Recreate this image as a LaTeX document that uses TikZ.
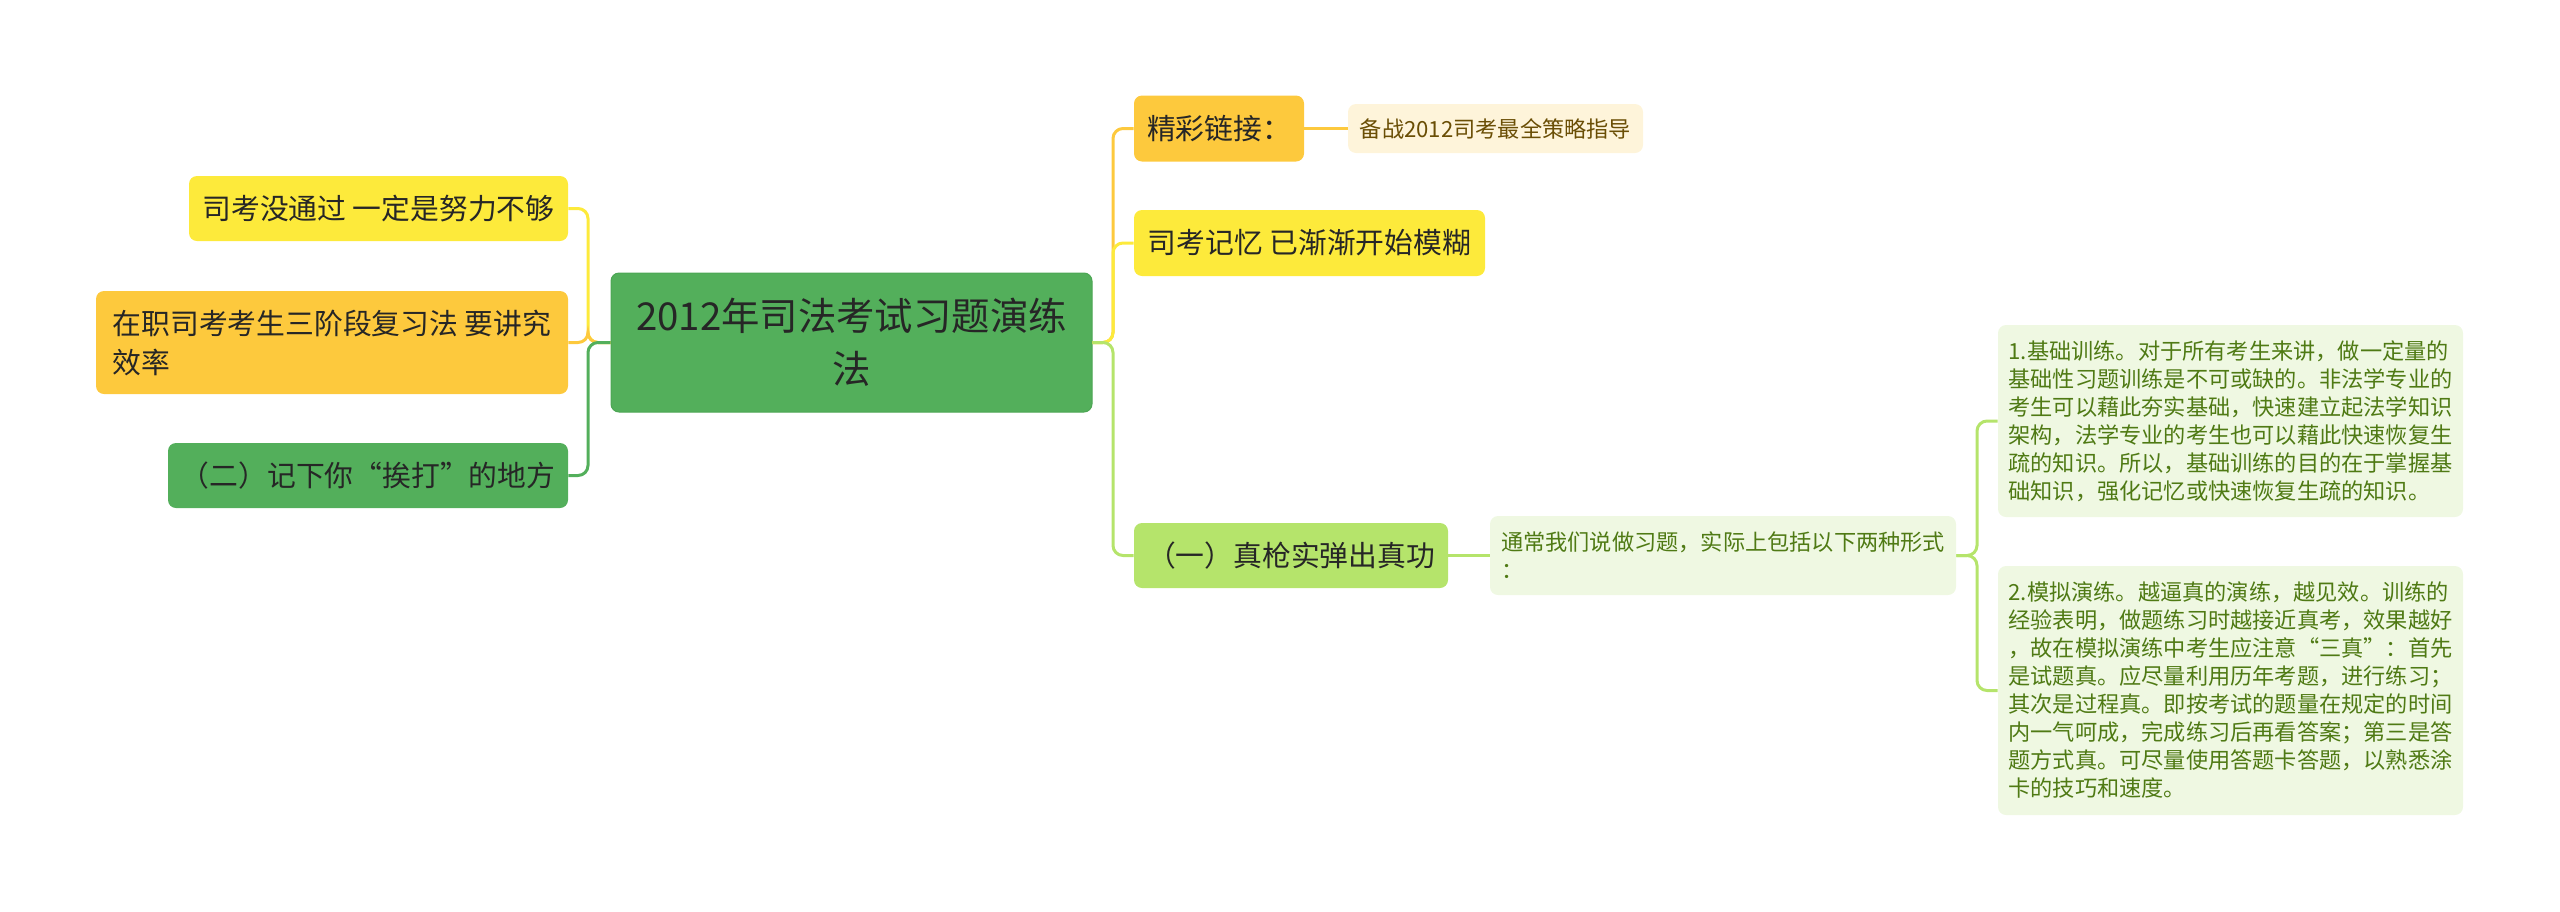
\documentclass[tikz,border=0pt]{standalone}
\usepackage{fontspec}
\setmainfont{Noto Sans CJK SC}
\definecolor{rootg}{HTML}{53AF5B}
\definecolor{rootb}{HTML}{4CA654}
\definecolor{ylw}{HTML}{FDEA3B}
\definecolor{org}{HTML}{FDC93D}
\definecolor{lgr}{HTML}{B5E46B}
\definecolor{pale}{HTML}{EFF8E2}
\definecolor{cream}{HTML}{FEF4DA}
\definecolor{txt}{HTML}{262626}
\definecolor{gtxt}{HTML}{4F7A14}
\definecolor{btxt}{HTML}{6A4E05}
\begin{document}
\begin{tikzpicture}[x=0.5pt,y=-0.5pt,
  box/.style={rounded corners=4pt, inner sep=0pt, align=left, text=txt},
  rootbox/.style={box, fill=rootg, draw=rootb, line width=0.5pt, align=center,
    font=\fontsize{19.2pt}{26.5pt}\selectfont},
  lvlone/.style={box, font=\fontsize{14.4pt}{19.5pt}\selectfont},
  lvltwo/.style={box, font=\fontsize{11.1pt}{14pt}\selectfont, fill=pale, text=gtxt},
  linkbox/.style={box, font=\fontsize{11.1pt}{14pt}\selectfont, fill=cream, text=btxt},
  link/.style={line width=1.5pt, rounded corners=5pt},
]
\useasboundingbox (0,0) rectangle (2560,911);

% nodes
\node[rootbox, minimum width=240.5pt, minimum height=69.5pt] (root) at (851.5,342.5)
  {2012年司法考试习题演练\\法};

\node[lvlone, fill=ylw, minimum width=189.5pt, minimum height=32.5pt] (a) at (378.5,208.5)
  {司考没通过 一定是努力不够};
\node[lvlone, fill=org, minimum width=236pt, minimum height=51.5pt] (b) at (332,342.5)
  {在职司考考生三阶段复习法 要讲究\\效率};
\node[lvlone, fill=rootg, minimum width=200pt, minimum height=32.5pt] (c) at (368,475.5)
  {（二）记下你“挨打”的地方};

\node[lvlone, fill=org, minimum width=85pt, minimum height=33pt] (d) at (1219,128.5)
  {精彩链接：};
\node[linkbox, minimum width=147.5pt, minimum height=24.5pt] (e) at (1495.5,128.5)
  {备战2012司考最全策略指导};
\node[lvlone, fill=ylw, minimum width=175.5pt, minimum height=33pt] (f) at (1309.5,243)
  {司考记忆 已渐渐开始模糊};
\node[lvlone, fill=lgr, minimum width=157pt, minimum height=32.5pt] (g) at (1291,555.5)
  {（一）真枪实弹出真功};

\node[lvltwo, minimum width=233pt, minimum height=39.5pt] (h) at (1723,555.5)
  {通常我们说做习题，实际上包括以下两种形式\\：};
\node[lvltwo, minimum width=232.5pt, minimum height=96pt] (i) at (2230.5,421)
  {1.基础训练。对于所有考生来讲，做一定量的\\
   基础性习题训练是不可或缺的。非法学专业的\\
   考生可以藉此夯实基础，快速建立起法学知识\\
   架构，法学专业的考生也可以藉此快速恢复生\\
   疏的知识。所以，基础训练的目的在于掌握基\\
   础知识，强化记忆或快速恢复生疏的知识。};
\node[lvltwo, minimum width=232.5pt, minimum height=124.5pt] (j) at (2230.5,690.5)
  {2.模拟演练。越逼真的演练，越见效。训练的\\
   经验表明，做题练习时越接近真考，效果越好\\
   ，故在模拟演练中考生应注意“三真”：首先\\
   是试题真。应尽量利用历年考题，进行练习；\\
   其次是过程真。即按考试的题量在规定的时间\\
   内一气呵成，完成练习后再看答案；第三是答\\
   题方式真。可尽量使用答题卡答题，以熟悉涂\\
   卡的技巧和速度。};

% junctions
\coordinate (lj) at (588,342.5);
\coordinate (rj) at (1113,342.5);
\coordinate (hj) at (1977,555.5);

% connectors, drawn behind nodes
\begin{scope}[on background layer/.try]
\end{scope}
\draw[link, draw=ylw] (root.west) -- (lj) |- (a.east);
\draw[link, draw=org] (root.west) -- (lj) |- (b.east);
\draw[link, draw=rootg] (root.west) -- (lj) |- (c.east);

\draw[link, draw=org] (root.east) -- (rj) |- (d.west);
\draw[link, draw=ylw] (root.east) -- (rj) |- (f.west);
\draw[link, draw=lgr] (root.east) -- (rj) |- (g.west);

\draw[link, draw=org] (d.east) -- (e.west);
\draw[link, draw=lgr] (g.east) -- (h.west);
\draw[link, draw=lgr] (h.east) -- (hj) |- (i.west);
\draw[link, draw=lgr] (h.east) -- (hj) |- (j.west);
\end{tikzpicture}
\end{document}
